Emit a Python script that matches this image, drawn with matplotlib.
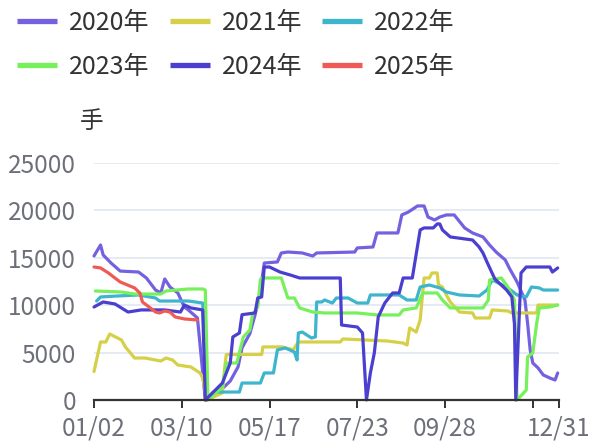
import matplotlib
matplotlib.use("Agg")
import matplotlib.pyplot as plt

plt.rcParams['font.family'] = ['Noto Sans CJK SC', 'DejaVu Sans']

# category positions (trading-day index from 01/02) and daily volumes, in 手
tick_pos = [0, 67, 134, 201, 268, 335, 355]
tick_labels = ['01/02', '03/10', '05/17', '07/23', '09/28', '', '12/31']

x2020 = [0, 5, 7, 13, 20, 34, 40, 47, 51, 54, 58, 64, 69, 72, 79, 85,
         95, 104, 110, 113, 119, 123, 127, 130, 140, 143, 148, 159, 167, 170,
         199, 201, 213, 216, 232, 235, 240, 247, 252, 255, 260, 264, 269, 275,
         283, 289, 297, 302, 307, 314, 317, 323, 329, 331, 333, 335, 339, 343,
         348, 352, 354]
y2020 = [15190, 16350, 15300, 14450, 13600, 13500, 12870, 11600, 11290, 12770,
         11920, 11290, 9810, 9500, 8650, 0,
         800, 2000, 3500, 5500, 7000, 9000, 11500, 14450, 14560, 15510, 15610,
         15510, 15190, 15510, 15610, 16040, 16140, 17620, 17620, 19520, 19830,
         20470, 20470, 19300, 18990, 19300, 19520, 19520, 18150, 17620, 17200,
         16350, 15610, 14770, 13930, 12450, 10550, 8120, 5280, 3900, 3380, 2640,
         2320, 2110, 2850]

x2021 = [0, 5, 9, 12, 21, 24, 31, 39, 51, 55, 60, 64, 74, 81, 83, 86,
         98, 100, 101, 128, 129, 144, 152, 156, 188, 190, 224, 236, 239, 241,
         246, 249, 252, 256, 258, 262, 263, 266, 269, 272, 279, 289, 291, 302,
         304, 316, 319, 338, 339, 354]
y2021 = [3000, 6120, 6120, 6960, 6330, 5590, 4430, 4430, 4110, 4430, 4220,
         3690, 3480, 2850, 2320, 0,
         740, 3690, 4800, 4800, 5600, 5600, 5280, 6120, 6120, 6440, 6220, 6010,
         5800, 7600, 7170, 8440, 12870, 12870, 13400, 13400, 12130, 11920,
         11080, 10340, 9280, 9180, 8650, 8650, 9500, 9390, 9180, 9180, 10020,
         10020]

x2022 = [2, 5, 18, 34, 47, 50, 72, 83, 86, 91, 111, 113, 127, 130, 137, 140,
         146, 153, 155, 156, 159, 166, 169, 170, 174, 176, 182, 185, 194, 201,
         209, 211, 233, 239, 246, 249, 256, 264, 269, 279, 294, 300, 304, 315,
         323, 330, 334, 340, 343, 354]
y2022 = [10440, 10870, 10970, 11080, 10760, 10440, 10440, 10230, 0, 840, 840,
         1790, 1790, 2850, 2850, 5280, 5490, 5060, 4220, 7070, 7170, 6540, 6650,
         10340, 10340, 10550, 10230, 10760, 10760, 10230, 10230, 11080, 11080,
         10550, 10550, 11920, 12130, 11820, 11390, 11080, 10970, 11600, 12660,
         11920, 11080, 10870, 11920, 11820, 11600, 11600]

x2023 = [1, 21, 31, 51, 55, 72, 83, 85, 87, 98, 101, 109, 114, 119, 121, 125,
         127, 128, 143, 146, 148, 153, 157, 167, 176, 201, 216, 233, 236, 246,
         251, 262, 266, 272, 297, 301, 302, 311, 316, 321, 323, 330, 331, 335,
         338, 340, 348, 354]
y2023 = [11500, 11390, 11180, 11180, 11500, 11710, 11710, 11600, 0, 1370,
         3900, 3900, 6650, 7380, 9000, 9810, 12660, 12870, 12870, 11600, 10760,
         10760, 9710, 9280, 9180, 9180, 8970, 8970, 9500, 9710, 11290, 11290,
         10550, 9710, 9710, 10550, 12660, 12870, 11920, 10550, 0, 1050, 4540,
         4960, 8120, 9710, 9810, 10020]

x2024 = [0, 7, 16, 26, 36, 47, 54, 66, 69, 74, 83, 85, 98, 104, 106, 111, 113,
         123, 125, 128, 130, 134, 142, 150, 157, 188, 189, 201, 205, 208, 211,
         214, 217, 222, 228, 233, 236, 243, 245, 249, 252, 259, 262, 264, 266,
         272, 289, 294, 297, 300, 306, 315, 319, 321, 322, 326, 330, 335, 348,
         350, 354]
y2024 = [9810, 10340, 10130, 9280, 9500, 9500, 9500, 9280, 10020, 9710, 9500,
         0, 1790, 3900, 6650, 7070, 9000, 9180, 10760, 10870, 14030, 14030,
         13500, 13180, 12870, 12870, 7910, 7700, 7070, 0, 2850, 4960, 8760,
         10230, 11290, 11290, 12870, 12870, 14560, 17940, 18150, 18150, 18570,
         18570, 17940, 17200, 16880, 16140, 15500, 14560, 12770, 11600, 10870,
         8000, 0, 13400, 14030, 14030, 14030, 13500, 13930]

x2025 = [0, 5, 11, 16, 20, 31, 35, 37, 43, 47, 50, 54, 58, 62, 69, 79]
y2025 = [14030, 13930, 13400, 12870, 12450, 11820, 11290, 10340, 9710, 9280,
         9180, 9390, 9280, 8760, 8550, 8440]

series = [
    ('2020年', x2020, y2020, '#7461e0'),
    ('2021年', x2021, y2021, '#d5d047'),
    ('2022年', x2022, y2022, '#3db5cc'),
    ('2023年', x2023, y2023, '#77f05c'),
    ('2024年', x2024, y2024, '#4b3fd0'),
    ('2025年', x2025, y2025, '#f05a56'),
]

fig = plt.figure(figsize=(5.9, 4.41), dpi=100)
ax = fig.add_axes([94 / 590, 41 / 441, 465 / 590, 237 / 441])

for name, xs, ys, color in series:
    ax.plot(xs, ys, color=color, lw=2.3, label=name, clip_on=False,
            solid_joinstyle='round', solid_capstyle='round')

ax.set_xlim(0, 355)
ax.set_ylim(0, 25000)
ax.set_yticks([0, 5000, 10000, 15000, 20000, 25000])
ax.set_xticks(tick_pos)
ax.set_xticklabels(tick_labels)

ax.grid(axis='y', color='#e0e6f1', lw=1.2)
ax.set_axisbelow(True)
for side in ('top', 'right', 'left'):
    ax.spines[side].set_visible(False)
ax.spines['bottom'].set_color('#333333')
ax.spines['bottom'].set_linewidth(1.6)
ax.tick_params(axis='y', length=0, pad=13, labelsize=17.5, labelcolor='#6e7079')
ax.tick_params(axis='x', length=6, width=1.4, color='#333333', pad=5,
               labelsize=17.5, labelcolor='#6e7079')
ax.get_xticklabels()[-1].set_x(352)

fig.text(80 / 590, 1 - 121 / 441, '手', fontsize=17, color='#333333',
         va='center', ha='left')

# legend is filled column by column, so reorder to read row by row
handles, labels = ax.get_legend_handles_labels()
order = [0, 3, 1, 4, 2, 5]
leg = fig.legend([handles[i] for i in order], [labels[i] for i in order],
                 loc='upper left', ncol=3, frameon=False,
                 bbox_to_anchor=(7 / 590, 1.0), fontsize=18,
                 handlelength=1.6, handletextpad=0.48, columnspacing=0.8,
                 labelspacing=0.7, borderaxespad=0)
for line in leg.get_lines():
    line.set_linewidth(3.8)
    line.set_solid_capstyle('butt')
for t in leg.get_texts():
    t.set_color('#333333')

fig.savefig('out.png', dpi=100)
